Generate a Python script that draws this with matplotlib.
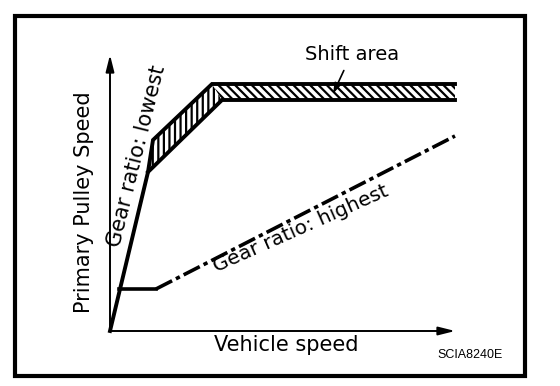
import matplotlib.pyplot as plt
from matplotlib.patches import Rectangle

plt.rcParams['font.family'] = ['DejaVu Sans']
plt.rcParams['hatch.linewidth'] = 1.6

# picture coordinates (x to the right, y downwards)
origin = (110, 331)
lowest_x = [110, 148, 153, 212, 455]
lowest_y = [331, 172, 140, 84, 84]
inner_x = [148, 222, 455]
inner_y = [172, 100, 100]
highest_flat_x = [119, 156]
highest_flat_y = [289, 289]
highest_x = [156, 455]
highest_y = [289, 136]

fig = plt.figure(figsize=(5.6, 3.86), dpi=100)
ax = fig.add_axes([0, 0, 1, 1])
ax.set_xlim(0, 560)
ax.set_ylim(386, 0)
ax.axis('off')

# frame
ax.add_patch(Rectangle((15, 16), 510, 360, fill=False, lw=3.0, color='black'))

# axes with arrows
ax.annotate('', xy=(458, origin[1]), xytext=(origin[0] - 1, origin[1]),
            arrowprops=dict(arrowstyle='-|>,head_length=1.0,head_width=0.25', lw=1.4, color='black'))
ax.annotate('', xy=(origin[0], 52), xytext=(origin[0], origin[1] + 1),
            arrowprops=dict(arrowstyle='-|>,head_length=1.0,head_width=0.25', lw=1.4, color='black'))

# shift area hatching
ax.fill([lowest_x[1], lowest_x[2], lowest_x[3], inner_x[1]],
        [lowest_y[1], lowest_y[2], lowest_y[3], inner_y[1]],
        facecolor='white', edgecolor='black', lw=0, hatch='|||')
ax.fill([lowest_x[3], lowest_x[4], inner_x[2], inner_x[1]],
        [lowest_y[3], lowest_y[4], inner_y[2], inner_y[1]],
        facecolor='white', edgecolor='black', lw=0, hatch='\\\\\\\\')

ax.plot(lowest_x, lowest_y, color='black', lw=2.8, solid_joinstyle='miter')
ax.plot(inner_x, inner_y, color='black', lw=2.8, solid_joinstyle='miter')
ax.plot(highest_flat_x, highest_flat_y, color='black', lw=2.6)
ax.plot(highest_x, highest_y, color='black', lw=2.6, dashes=(5.0, 1.2, 1.2, 1.2))

# texts
ax.text(84, 202, 'Primary Pulley Speed', rotation=90, ha='center', va='center', fontsize=15)
ax.text(286, 345, 'Vehicle speed', ha='center', va='center', fontsize=15)
ax.text(137, 156, 'Gear ratio: lowest', rotation=76, ha='center', va='center',
        rotation_mode='anchor', fontsize=15)
ax.text(301, 229, 'Gear ratio: highest', rotation=24, ha='center', va='center',
        rotation_mode='anchor', fontsize=14.5)
ax.text(352, 55, 'Shift area', ha='center', va='center', fontsize=14)
ax.annotate('', xy=(332, 96), xytext=(345, 68),
            arrowprops=dict(arrowstyle='-|>,head_length=0.6,head_width=0.2', lw=1.2, color='black'))
ax.text(470, 355, 'SCIA8240E', ha='center', va='center', fontsize=9,
        family=['Liberation Sans', 'DejaVu Sans'])

fig.savefig('out.png', dpi=100)
